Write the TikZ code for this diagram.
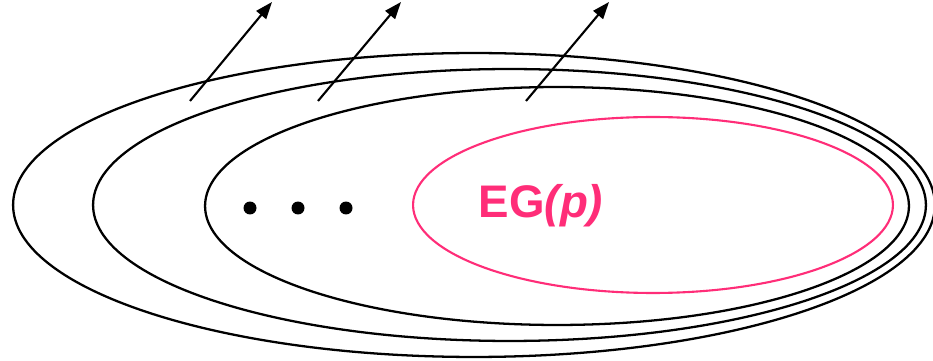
\documentclass[tikz,border=0pt]{standalone}
\usepackage{fontspec}
\setmainfont{Liberation Sans}
\usetikzlibrary{shapes.geometric,arrows.meta}
\definecolor{egpink}{RGB}{255,45,120}
\tikzset{
  ring/.style={draw=black, line width=1.3pt, ellipse, inner sep=0pt},
  pinkring/.style={draw=egpink, line width=1.2pt, ellipse, inner sep=0pt},
  dotmark/.style={circle, fill=black, inner sep=0pt, minimum size=0.26cm},
  arr/.style={line width=1.2pt, -{Triangle[length=0.34cm,width=0.25cm]}},
  lbl/.style={text=egpink, font=\bfseries\fontsize{26}{30}\selectfont, inner sep=0pt}
}
\begin{document}
\begin{tikzpicture}[x=0.02cm, y=-0.02cm]
\useasboundingbox (0,0) rectangle (933,361);
\node[ring, minimum width=18.44cm, minimum height=6.08cm] (outer) at (474,205) {};
\node[ring, minimum width=16.66cm, minimum height=5.44cm] (middle) at (509.5,205) {};
\node[ring, minimum width=14.08cm, minimum height=4.76cm] (inner) at (557,206) {};
\node[pinkring, minimum width=9.6cm, minimum height=3.52cm] (eg) at (653,205) {};
\node[lbl] (eglabel) at (541,206) {EG\textit{(p)}};
\node[dotmark] (d1) at (250,208) {};
\node[dotmark] (d2) at (298,208) {};
\node[dotmark] (d3) at (346,208) {};
\coordinate (t1) at (190,101);
\coordinate (h1) at (272,2);
\coordinate (t2) at (318,101);
\coordinate (h2) at (401,2);
\coordinate (t3) at (526,101);
\coordinate (h3) at (609,2);
\draw[arr] (t1) -- (h1);
\draw[arr] (t2) -- (h2);
\draw[arr] (t3) -- (h3);
\end{tikzpicture}
\end{document}
